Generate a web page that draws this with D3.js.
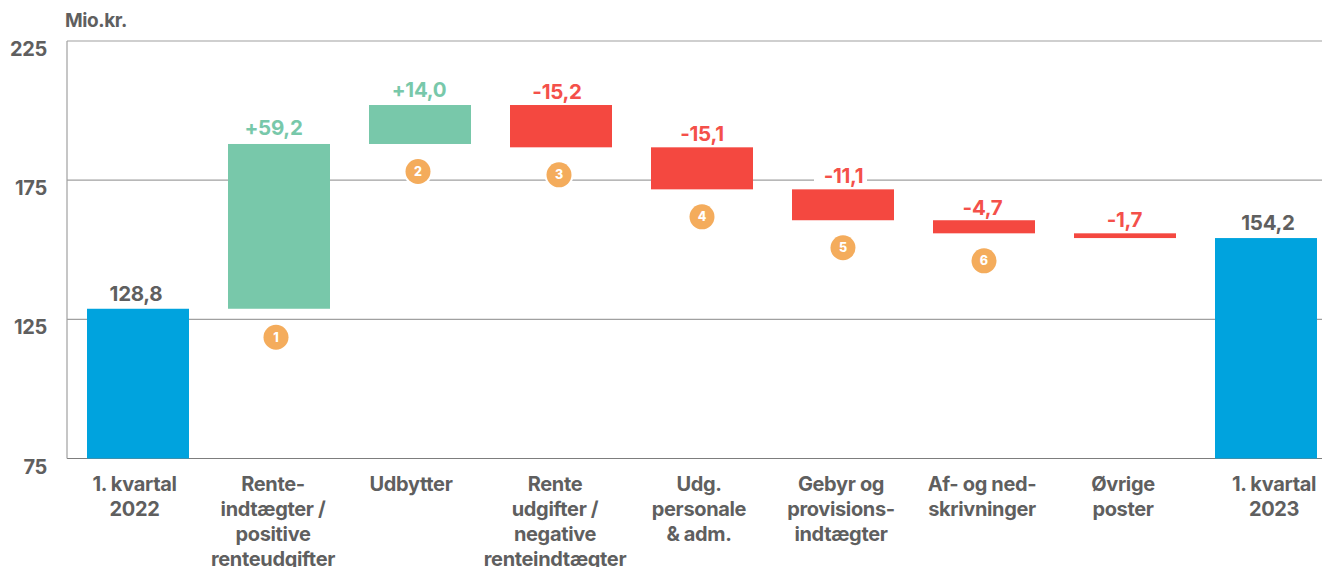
<!DOCTYPE html>
<html><head><meta charset="utf-8">
<script src="https://cdn.jsdelivr.net/npm/d3@7/dist/d3.min.js"></script>
<style>html,body{margin:0;padding:0;background:#fff;overflow:hidden}svg{display:block}text{font-family:Inter,"Liberation Sans",Arial,sans-serif}</style>
</head><body><svg id="c" width="1322" height="567"></svg>
<script>
const categories=["q22","renteind","udbytter","renteudg","personale","gebyr","afned","ovrige","q23"];
const categoryLines=[["1. kvartal","2022"],["Rente-","indtægter /","positive","renteudgifter"],["Udbytter"],["Rente","udgifter /","negative","renteindtægter"],["Udg.","personale","& adm."],["Gebyr og","provisions-","indtægter"],["Af- og ned-","skrivninger"],["Øvrige","poster"],["1. kvartal","2023"]];
const valueLabels=["128,8","+59,2","+14,0","-15,2","-15,1","-11,1","-4,7","-1,7","154,2"];
const lows=[75,128.8,188,186.8,171.7,160.6,155.9,154.2,75];
const highs=[128.8,188,202,202,186.8,171.7,160.6,155.9,154.2];
const kinds=["total","up","up","down","down","down","down","down","total"];
const badges=[null,1,2,3,4,5,6,null,null];
const yTicks=[75,125,175,225];
const colors={total:"#00a3de",up:"#78c8aa",down:"#f44840"};
const textColors={total:"#5f5f5f",up:"#78c8aa",down:"#f4504a"};
const grey="#5f5f5f",lineC="#a0a0a0";

const svg=d3.select("#c");
const y=d3.scaleLinear().domain([75,225]).range([458.5,41]);
const x=d3.scaleBand().domain(categories).range([67.5,1336.5]).paddingInner(39/141).paddingOuter(39/282);

svg.append("g").selectAll("line").data(yTicks).join("line")
 .attr("x1",67).attr("x2",1322).attr("y1",d=>y(d)).attr("y2",d=>y(d))
 .attr("stroke",d=>d===75?"#7d7d7d":lineC).attr("stroke-width",1.2);
svg.append("line").attr("x1",67).attr("x2",67).attr("y1",y(225)).attr("y2",y(75)).attr("stroke",lineC).attr("stroke-width",1.2);

svg.append("g").selectAll("text").data(yTicks).join("text")
 .attr("x",47).attr("y",d=>y(d)+15).attr("text-anchor","end")
 .attr("font-size",20).attr("font-weight",700).attr("letter-spacing",-0.3).attr("fill",grey).text(d=>d);
svg.append("text").attr("x",65).attr("y",27).attr("font-size",19).attr("font-weight",700).attr("letter-spacing",-0.4).attr("fill",grey).text("Mio.kr.");

svg.append("g").selectAll("rect").data(categories).join("rect")
 .attr("x",d=>x(d)).attr("width",x.bandwidth())
 .attr("y",(d,i)=>y(highs[i])).attr("height",(d,i)=>y(lows[i])-y(highs[i]))
 .attr("fill",(d,i)=>colors[kinds[i]]);

const labelDx=[-2,-5.5,-1,-4,0,0.5,-1.5,-0.5,2];
const labelDy=[-8,-9,-8,-6,-6,-6,-5,-6,-8];
const lab=svg.append("g").selectAll("g").data(categories).join("g")
 .attr("transform",(d,i)=>`translate(${x(d)+x.bandwidth()/2+labelDx[i]},${y(highs[i])+labelDy[i]})`);
lab.filter((d,i)=>i===5).append("rect").attr("x",-29.5).attr("y",-22).attr("width",53).attr("height",24).attr("fill","#fff");
lab.append("text").attr("text-anchor","middle").attr("font-size",20.5).attr("font-weight",700)
 .attr("letter-spacing",-0.3)
 .attr("fill",(d,i)=>textColors[kinds[i]]).text((d,i)=>valueLabels[i]);

const badgeDx=[0,-3,-2,-2,0,0,0,0,0];
const badgeDy=[0,28.5,27.5,27.5,27.5,27.5,27.5,0,0];
const bg=svg.append("g").selectAll("g").data(categories.filter((d,i)=>badges[i]!==null)).join("g")
 .attr("transform",d=>{const i=categories.indexOf(d);return `translate(${x(d)+x.bandwidth()/2+badgeDx[i]},${y(lows[i])+badgeDy[i]})`;});
bg.append("circle").attr("r",14.5).attr("fill","#fff");
bg.append("circle").attr("r",12.5).attr("fill","#f4ac5c");
bg.append("text").attr("text-anchor","middle").attr("y",4.5).attr("font-size",12.5).attr("font-weight",800).attr("fill","#fff")
 .text(d=>badges[categories.indexOf(d)]);

const cat=svg.append("g").selectAll("text").data(categories).join("text")
 .attr("text-anchor","middle").attr("font-size",20).attr("font-weight",700).attr("letter-spacing",-0.35).attr("fill",grey);
const catShift=[-3.5,-6,-9,-6,-3,-2,-2,-2,8];
cat.each(function(d,i){
 d3.select(this).selectAll("tspan").data(categoryLines[i]).join("tspan")
  .attr("x",x(d)+x.bandwidth()/2+catShift[i])
  .attr("y",(l,j)=>491+j*25).text(l=>l);
});
</script></body></html>
